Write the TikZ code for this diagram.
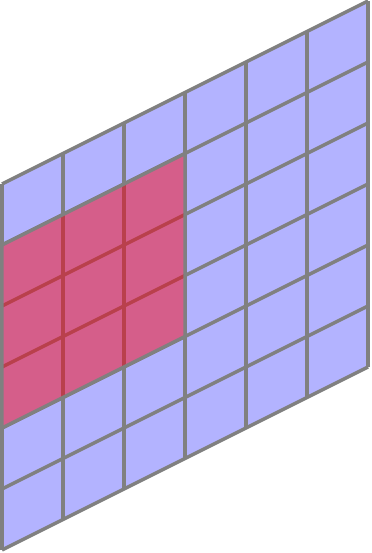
\documentclass[tikz,border=0pt]{standalone}
\usepackage{xcolor}
\usepackage{tikz}
\usetikzlibrary{calc}

\definecolor{cellblue}{RGB}{179,179,255}
\definecolor{cellred}{RGB}{213,94,138}
\definecolor{redline}{RGB}{185,64,76}
\definecolor{gridgray}{RGB}{128,128,128}

\begin{document}
\begin{tikzpicture}[gridline/.style={gridgray, line width=1.6pt}, innerline/.style={redline, line width=1.6pt}]
      \useasboundingbox (-0.033,-0.049) rectangle (6.049,9.016);

      \begin{scope}[x={(1cm,0.5cm)}, y={(0cm,1cm)}]
      % blue cells
      \fill[cellblue] (0,0) -- (6,0) -- (6,6) -- (0,6) -- cycle;

      % grid
      \foreach \i in {0,...,6} {
        \draw[gridline] (\i,0) -- (\i,6);
        \draw[gridline] (0,\i) -- (6,\i);
      }

      % red window
      \fill[cellred] (0,2) -- (3,2) -- (3,5) -- (0,5) -- cycle;
      \foreach \i in {1,2} {
        \draw[innerline] (\i,2) -- (\i,5);
        \draw[innerline] (0,\i+2) -- (3,\i+2);
      }
      \draw[gridline] (0,2) -- (3,2) -- (3,5) -- (0,5) -- cycle;
      \end{scope}
    \end{tikzpicture}
\end{document}
